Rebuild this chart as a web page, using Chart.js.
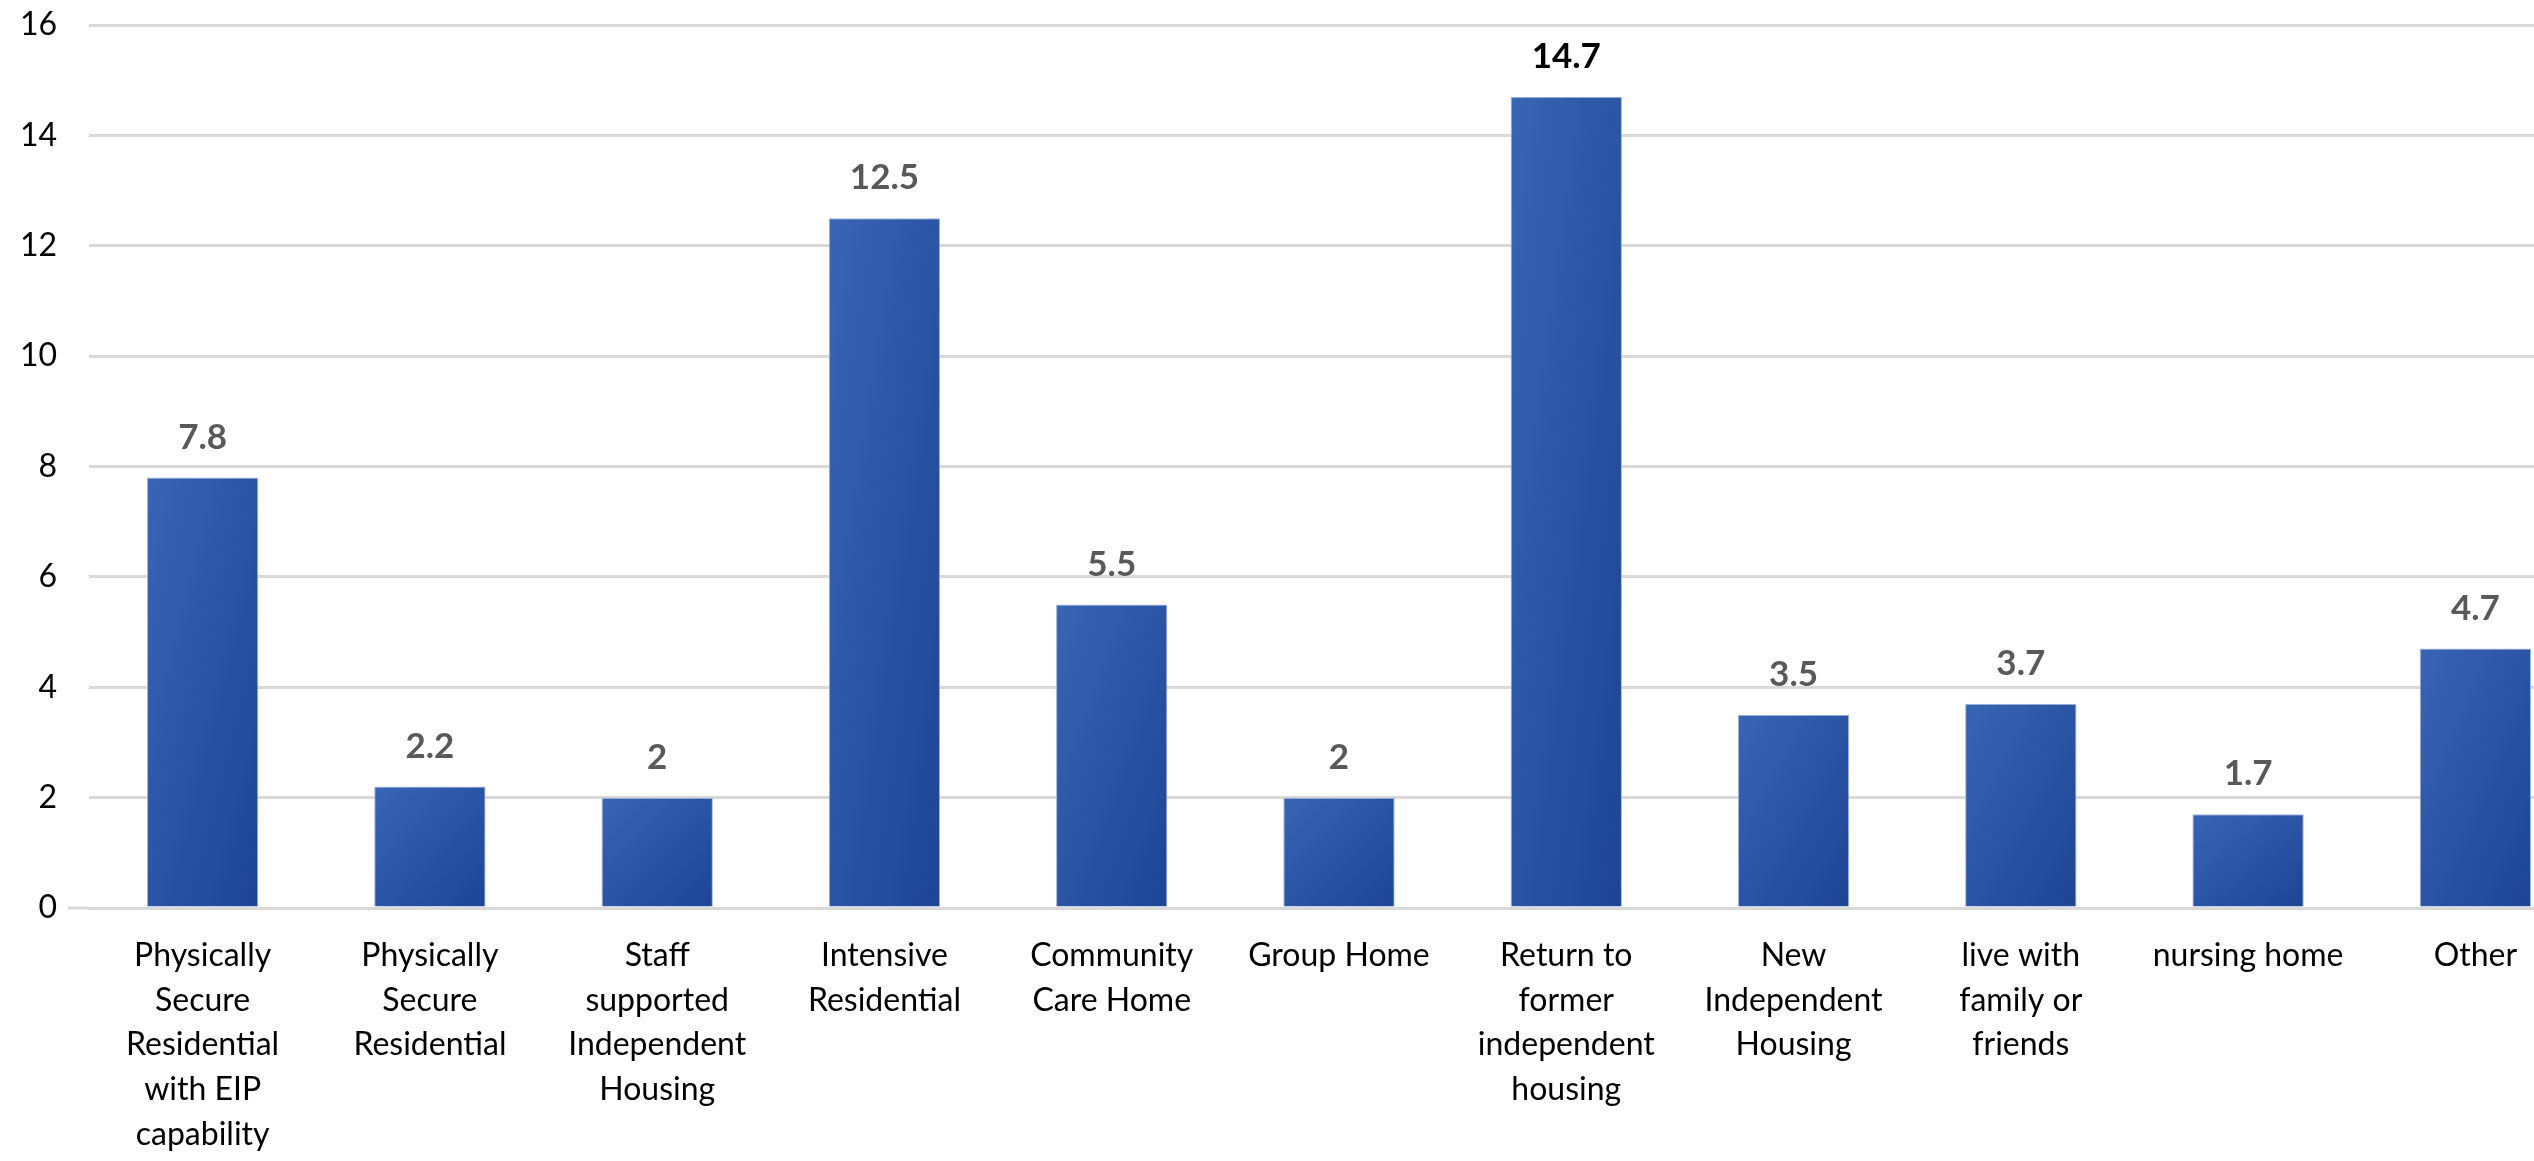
<!DOCTYPE html>
<html>
<head>
    <title>Destination after discharge</title>
    <script src="https://cdn.jsdelivr.net/npm/chart.js"></script>
    <style>
        html, body {
            margin: 0;
            padding: 0;
            background: #fff;
            overflow: hidden;
        }
        #chart-container {
            position: absolute;
            left: 0;
            top: 0;
            width: 2600px;
            height: 1161px;
        }
    </style>
</head>
<body>
    <div id="chart-container">
        <canvas id="myChart"></canvas>
    </div>

    <script>
        // Data
        const categories = [
            ['Physically', 'Secure', 'Residential', 'with EIP', 'capability'],
            ['Physically', 'Secure', 'Residential'],
            ['Staff', 'supported', 'Independent', 'Housing'],
            ['Intensive', 'Residential'],
            ['Community', 'Care Home'],
            ['Group Home'],
            ['Return to', 'former', 'independent', 'housing'],
            ['New', 'Independent', 'Housing'],
            ['live with', 'family or', 'friends'],
            ['nursing home'],
            ['Other']
        ];
        const values = [7.8, 2.2, 2, 12.5, 5.5, 2, 14.7, 3.5, 3.7, 1.7, 4.7];
        const yTicks = [0, 2, 4, 6, 8, 10, 12, 14, 16];
        const highlightIndex = 6;

        const FONT = 'Lato, "Open Sans", sans-serif';
        const BAR_PCT = 0.49;

        // Gradient that scales with the bar (light top-left, dark bottom-right)
        function barFill(context) {
            const chart = context.chart;
            if (!chart.chartArea || !chart.scales.x) {
                return '#2f5aaa';
            }
            const xs = chart.scales.x;
            const ys = chart.scales.y;
            const i = context.dataIndex;
            const cx = xs.getPixelForValue(i);
            const w = xs.width / categories.length * BAR_PCT;
            const top = ys.getPixelForValue(values[i]);
            const h = Math.max(ys.getPixelForValue(0) - top, 1);
            const x0 = cx - w / 2;
            const k = 2 * w * h / (w * w + h * h);
            const g = chart.ctx.createLinearGradient(x0, top, x0 + h * k, top + w * k);
            g.addColorStop(0, '#3865b4');
            g.addColorStop(1, '#1d4495');
            return g;
        }

        // Value labels above the bars, and the baseline stub at the left
        const labelPlugin = {
            id: 'valueLabels',
            afterDatasetsDraw(chart) {
                const ctx = chart.ctx;
                const yScale = chart.scales.y;
                ctx.save();
                ctx.textAlign = 'center';
                ctx.textBaseline = 'middle';
                ctx.font = 'bold 35px ' + FONT;
                chart.getDatasetMeta(0).data.forEach((bar, i) => {
                    ctx.fillStyle = i === highlightIndex ? '#000000' : '#595959';
                    ctx.fillText(String(values[i]), bar.x, bar.y - 40);
                });
                const y0 = yScale.getPixelForValue(0);
                ctx.strokeStyle = '#d9d9d9';
                ctx.lineWidth = 3;
                ctx.beginPath();
                ctx.moveTo(chart.chartArea.left - 21, y0);
                ctx.lineTo(chart.chartArea.left, y0);
                ctx.stroke();
                ctx.restore();
            }
        };

        function renderChart() {
            const ctx = document.getElementById('myChart').getContext('2d');

            new Chart(ctx, {
                type: 'bar',
                data: {
                    labels: categories,
                    datasets: [{
                        data: values,
                        backgroundColor: barFill,
                        borderColor: '#a3b6de',
                        borderWidth: 1,
                        barPercentage: BAR_PCT,
                        categoryPercentage: 1.0
                    }]
                },
                options: {
                    responsive: true,
                    maintainAspectRatio: false,
                    animation: false,
                    layout: {
                        padding: { top: 25, right: 11, left: 0, bottom: 0 }
                    },
                    plugins: {
                        legend: { display: false },
                        tooltip: { enabled: false }
                    },
                    scales: {
                        x: {
                            grid: { display: false, drawTicks: false },
                            border: { display: true, color: '#d9d9d9', width: 3 },
                            ticks: {
                                color: '#000000',
                                padding: 25,
                                maxRotation: 0,
                                autoSkip: false,
                                font: { family: FONT, size: 32, lineHeight: 1.4 }
                            },
                            afterFit(scale) { scale.height = 253; }
                        },
                        y: {
                            min: 0,
                            max: 16,
                            afterBuildTicks(scale) {
                                scale.ticks = yTicks.map(v => ({ value: v }));
                            },
                            grid: { color: '#d9d9d9', lineWidth: 3, drawTicks: false },
                            border: { display: false },
                            ticks: {
                                color: '#000000',
                                padding: 32,
                                font: { family: FONT, size: 32 }
                            },
                            afterFit(scale) {
                                scale.width = 89;
                                scale.paddingTop = 0;
                                scale.paddingBottom = 0;
                            }
                        }
                    }
                },
                plugins: [labelPlugin]
            });
        }

        window.addEventListener('DOMContentLoaded', renderChart);
    </script>
</body>
</html>
